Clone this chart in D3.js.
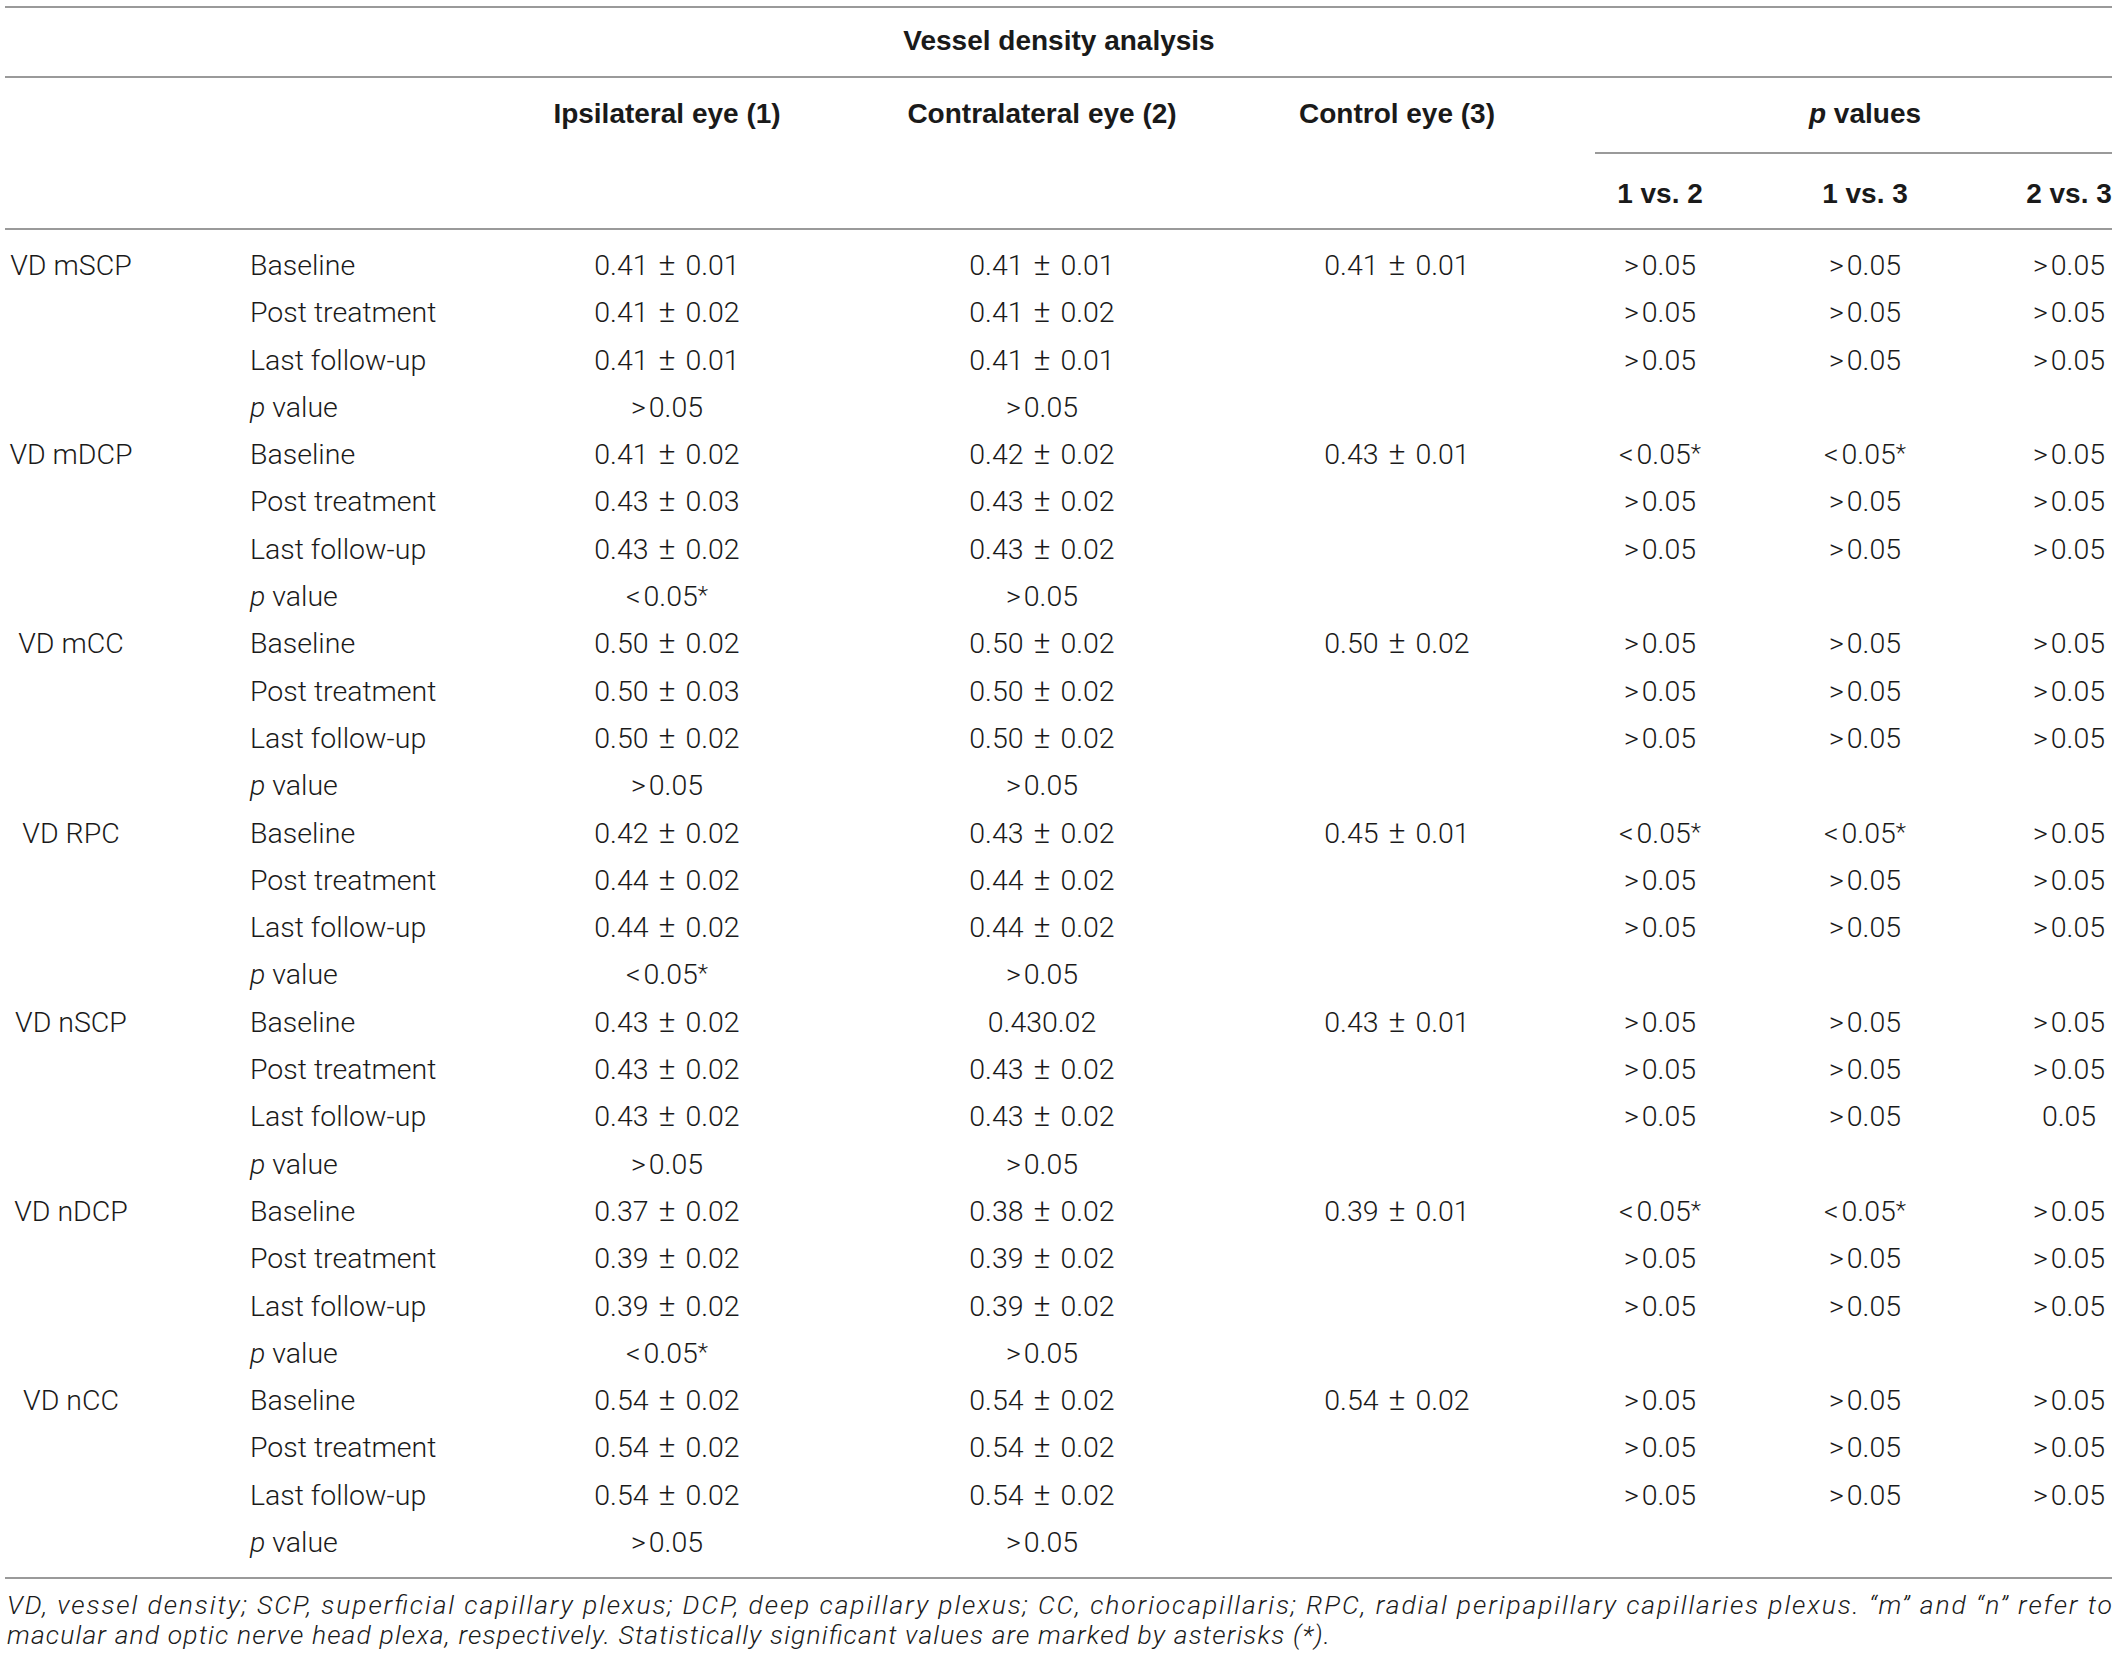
<!DOCTYPE html>
<html>
<head>
<meta charset="utf-8">
<script src="https://cdn.jsdelivr.net/npm/d3@7"></script>
<style>
  html, body { margin: 0; padding: 0; background: #fff; }
  svg { display: block; }
  .body { font-family: Roboto, "Liberation Sans", sans-serif; font-weight: 300; font-size: 28.5px; fill: #1a1a1a; }
  .head { font-family: "Liberation Sans", Arial, sans-serif; font-weight: 700; font-size: 28px; fill: #1a1a1a; }
  .note { font-family: Roboto, "Liberation Sans", sans-serif; font-weight: 300; font-style: italic; font-size: 26.5px; fill: #1a1a1a; }
</style>
</head>
<body>
<div id="chart"></div>
<script>
// ── Data ──
const groups = ['VD mSCP', 'VD mDCP', 'VD mCC', 'VD RPC', 'VD nSCP', 'VD nDCP', 'VD nCC'];
const timepoints = ['Baseline', 'Post treatment', 'Last follow-up', 'p value'];

const ipsilateral = [
  ['0.41 ± 0.01', '0.41 ± 0.02', '0.41 ± 0.01', '>0.05'],
  ['0.41 ± 0.02', '0.43 ± 0.03', '0.43 ± 0.02', '<0.05*'],
  ['0.50 ± 0.02', '0.50 ± 0.03', '0.50 ± 0.02', '>0.05'],
  ['0.42 ± 0.02', '0.44 ± 0.02', '0.44 ± 0.02', '<0.05*'],
  ['0.43 ± 0.02', '0.43 ± 0.02', '0.43 ± 0.02', '>0.05'],
  ['0.37 ± 0.02', '0.39 ± 0.02', '0.39 ± 0.02', '<0.05*'],
  ['0.54 ± 0.02', '0.54 ± 0.02', '0.54 ± 0.02', '>0.05']
];
const contralateral = [
  ['0.41 ± 0.01', '0.41 ± 0.02', '0.41 ± 0.01', '>0.05'],
  ['0.42 ± 0.02', '0.43 ± 0.02', '0.43 ± 0.02', '>0.05'],
  ['0.50 ± 0.02', '0.50 ± 0.02', '0.50 ± 0.02', '>0.05'],
  ['0.43 ± 0.02', '0.44 ± 0.02', '0.44 ± 0.02', '>0.05'],
  ['0.430.02', '0.43 ± 0.02', '0.43 ± 0.02', '>0.05'],
  ['0.38 ± 0.02', '0.39 ± 0.02', '0.39 ± 0.02', '>0.05'],
  ['0.54 ± 0.02', '0.54 ± 0.02', '0.54 ± 0.02', '>0.05']
];
const control = ['0.41 ± 0.01', '0.43 ± 0.01', '0.50 ± 0.02', '0.45 ± 0.01', '0.43 ± 0.01', '0.39 ± 0.01', '0.54 ± 0.02'];

// p values per group: [baseline, post treatment, last follow-up]
const p1vs2 = [
  ['>0.05', '>0.05', '>0.05'], ['<0.05*', '>0.05', '>0.05'], ['>0.05', '>0.05', '>0.05'],
  ['<0.05*', '>0.05', '>0.05'], ['>0.05', '>0.05', '>0.05'], ['<0.05*', '>0.05', '>0.05'],
  ['>0.05', '>0.05', '>0.05']
];
const p1vs3 = [
  ['>0.05', '>0.05', '>0.05'], ['<0.05*', '>0.05', '>0.05'], ['>0.05', '>0.05', '>0.05'],
  ['<0.05*', '>0.05', '>0.05'], ['>0.05', '>0.05', '>0.05'], ['<0.05*', '>0.05', '>0.05'],
  ['>0.05', '>0.05', '>0.05']
];
const p2vs3 = [
  ['>0.05', '>0.05', '>0.05'], ['>0.05', '>0.05', '>0.05'], ['>0.05', '>0.05', '>0.05'],
  ['>0.05', '>0.05', '>0.05'], ['>0.05', '>0.05', '0.05'], ['>0.05', '>0.05', '>0.05'],
  ['>0.05', '>0.05', '>0.05']
];

const colHeads = ['Ipsilateral eye (1)', 'Contralateral eye (2)', 'Control eye (3)'];
const pHeads = ['1 vs. 2', '1 vs. 3', '2 vs. 3'];
const footnote = [
  'VD, vessel density; SCP, superficial capillary plexus; DCP, deep capillary plexus; CC, choriocapillaris; RPC, radial peripapillary capillaries plexus. “m” and “n” refer to',
  'macular and optic nerve head plexa, respectively. Statistically significant values are marked by asterisks (*).'
];

// ── Layout ──
const W = 2118, H = 1664;
const svg = d3.select('#chart').append('svg').attr('width', W).attr('height', H);

const cols = ['group', 'time', 'ipsi', 'contra', 'ctrl', 'p12', 'p13', 'p23'];
const x = d3.scaleOrdinal().domain(cols).range([71, 250, 667, 1042, 1397, 1660, 1865, 2069]);
const nRows = groups.length * timepoints.length;
const y = d3.scalePoint().domain(d3.range(nRows)).range([275, 1552]);

// ── Rules ──
const rules = [
  { y: 7, x1: 5, x2: 2112 },
  { y: 77, x1: 5, x2: 2112 },
  { y: 153, x1: 1595, x2: 2112 },
  { y: 229, x1: 5, x2: 2112 },
  { y: 1578, x1: 5, x2: 2112 }
];
svg.append('g').selectAll('line').data(rules).enter().append('line')
  .attr('x1', d => d.x1).attr('x2', d => d.x2)
  .attr('y1', d => d.y).attr('y2', d => d.y)
  .attr('stroke', '#9a9a9a').attr('stroke-width', 2);

// ── Headers ──
const hg = svg.append('g').attr('class', 'head').attr('text-anchor', 'middle');
hg.append('text').attr('x', 1059).attr('y', 50).text('Vessel density analysis');
hg.selectAll('.ch').data(colHeads).enter().append('text').attr('class', 'ch')
  .attr('x', (d, i) => x(cols[i + 2])).attr('y', 123).text(d => d);
const pv = hg.append('text').attr('x', x('p13')).attr('y', 123);
pv.append('tspan').attr('font-style', 'italic').text('p');
pv.append('tspan').text(' values');
hg.selectAll('.ph').data(pHeads).enter().append('text').attr('class', 'ph')
  .attr('x', (d, i) => x(cols[i + 5])).attr('y', 203).text(d => d);

// ── Body cells ──
const cells = [];
groups.forEach((g, gi) => {
  timepoints.forEach((t, ti) => {
    const r = gi * timepoints.length + ti;
    if (ti === 0) cells.push({ col: 'group', row: r, text: g });
    cells.push({ col: 'time', row: r, text: t, italicP: ti === 3 });
    cells.push({ col: 'ipsi', row: r, text: ipsilateral[gi][ti] });
    cells.push({ col: 'contra', row: r, text: contralateral[gi][ti] });
    if (ti === 0) cells.push({ col: 'ctrl', row: r, text: control[gi] });
    if (ti < 3) {
      cells.push({ col: 'p12', row: r, text: p1vs2[gi][ti] });
      cells.push({ col: 'p13', row: r, text: p1vs3[gi][ti] });
      cells.push({ col: 'p23', row: r, text: p2vs3[gi][ti] });
    }
  });
});

const cell = svg.append('g').attr('class', 'body').selectAll('text').data(cells).enter().append('text')
  .attr('x', d => x(d.col)).attr('y', d => y(d.row))
  .attr('text-anchor', d => d.col === 'time' ? 'start' : 'middle')
  .attr('word-spacing', d => d.col === 'group' || d.col === 'time' ? null : 3);
cell.each(function (d) {
  const el = d3.select(this);
  if (d.italicP) {
    el.append('tspan').attr('font-style', 'italic').text('p');
    el.append('tspan').text(' value');
  } else if (/^[<>]/.test(d.text)) {
    // comparison sign set a little apart, as in the source typesetting
    el.append('tspan').text(d.text[0]);
    const rest = d.text.slice(1);
    if (rest.endsWith('*')) {
      el.append('tspan').attr('dx', 3).text(rest.slice(0, -1));
      el.append('tspan').attr('font-size', '24px').attr('dy', -3).text('*');
    } else {
      el.append('tspan').attr('dx', 3).text(rest);
    }
  } else if (d.text.includes('±')) {
    const [a, b] = d.text.split(' ± ');
    el.append('tspan').text(a + ' ');
    el.append('tspan').attr('font-size', '32px').text('±');
    el.append('tspan').text(' ' + b);
  } else {
    el.text(d.text);
  }
});

// ── Footnote ──
svg.append('g').attr('class', 'note').selectAll('text').data(footnote).enter().append('text')
  .attr('x', 7).attr('y', (d, i) => 1614 + i * 30)
  .attr('textLength', (d, i) => i === 0 ? 2105 : 1323)
  .attr('lengthAdjust', 'spacing')
  .text(d => d);
</script>
</body>
</html>
